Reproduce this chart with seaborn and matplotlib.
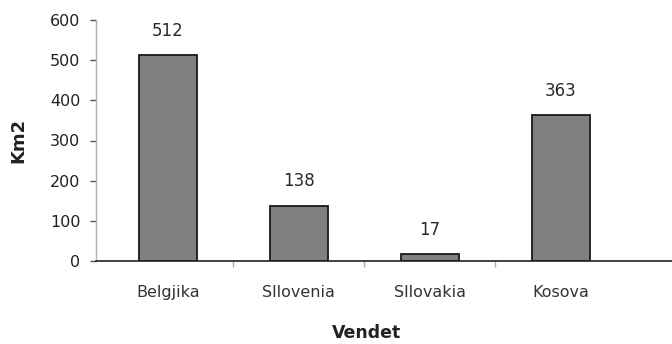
import matplotlib
matplotlib.use("Agg")
import matplotlib.pyplot as plt
import seaborn as sns
import pandas as pd

vendet = ["Belgjika", "Sllovenia", "Sllovakia", "Kosova"]
km2 = [512, 138, 17, 363]

df = pd.DataFrame({"Vendet": vendet, "Km2": km2})

sns.set_style("white")
plt.rcParams["font.family"] = ["DejaVu Sans"]

fig = plt.figure(figsize=(6.72, 3.44), dpi=100)
ax = fig.add_axes([96 / 672, 1 - 261 / 344, 1 - 96 / 672, 241 / 344])

sns.barplot(data=df, x="Vendet", y="Km2", color="#808080", width=0.44,
            edgecolor="#1a1a1a", linewidth=1.3, saturation=1, ax=ax)

ax.set_ylim(0, 600)
ax.set_xlim(-0.55, 3.85)
ax.set_yticks(range(0, 601, 100))
ax.set_xticks([0.5, 1.5, 2.5], minor=True)
ax.set_xticks(range(len(vendet)))
ax.set_xticklabels(vendet)

for i, v in enumerate(km2):
    ax.text(i, v + 38, str(v), ha="center", va="bottom", fontsize=12, color="#2a2a2a")

for s in ["top", "right"]:
    ax.spines[s].set_visible(False)
ax.spines["left"].set_color("#b0b0b0")
ax.spines["left"].set_linewidth(1.0)
ax.spines["bottom"].set_color("#222222")
ax.spines["bottom"].set_linewidth(1.2)

ax.tick_params(axis="y", which="major", direction="out", length=4.3, width=1,
               color="#555555", labelsize=11.5, labelcolor="#222222", pad=7, left=True)
ax.tick_params(axis="x", which="major", length=0, labelsize=11.5,
               labelcolor="#333333", pad=17)
ax.tick_params(axis="x", which="minor", direction="out", length=4, width=1,
               color="#aaaaaa", bottom=True)

ax.set_xlabel("Vendet", fontsize=12.5, fontweight="bold", color="#222222")
ax.set_ylabel("Km2", fontsize=13, fontweight="bold", color="#222222")
ax.xaxis.set_label_coords(0.47, -0.299)
ax.yaxis.set_label_coords(-0.135, 0.5)
ax.xaxis.label.set_verticalalignment("center")
ax.yaxis.label.set_verticalalignment("center")

fig.savefig("out.png", dpi=100)
